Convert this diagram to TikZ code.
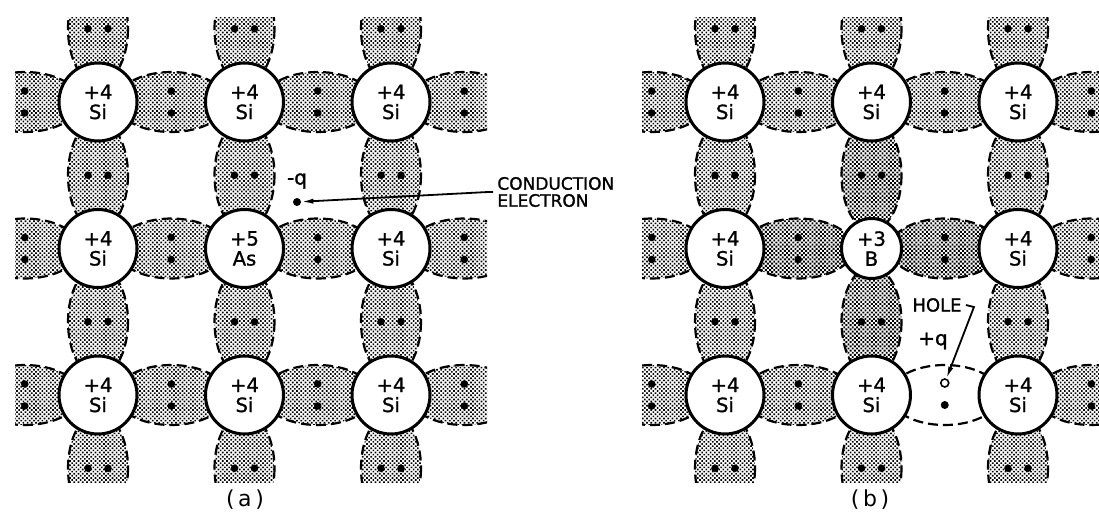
\documentclass[tikz,border=0pt]{standalone}
\usepackage{fontspec}
\setmainfont{DejaVu Sans}
\usetikzlibrary{positioning,patterns.meta,arrows.meta}

\tikzset{
  atom/.style={circle,draw,line width=1.5pt,fill=white,minimum size=39pt,inner sep=0pt,
    align=center,font=\fontsize{9.8}{10}\selectfont\addfontfeature{FakeBold=1.2}},
  boron/.style={atom,minimum size=30pt},
  bond/.style={dash pattern=on 5pt off 2.5pt,line width=1.1pt,
    pattern={Dots[distance=1.5pt,radius=0.58pt,angle=45]}},
  darkbond/.style={bond,pattern={Dots[distance=1.5pt,radius=0.68pt,angle=45]}},
  electron/.style={circle,fill,inner sep=0pt,minimum size=4pt},
  hole/.style={circle,draw,fill=white,line width=0.8pt,inner sep=0pt,minimum size=4pt},
  lbl/.style={font=\fontsize{8.5}{8.5}\selectfont\addfontfeature{FakeBold=1.2},inner sep=2pt},
  charge/.style={font=\fontsize{10}{10}\selectfont\addfontfeature{FakeBold=1.2},inner sep=1pt},
  pointer/.style={-{Latex[length=6pt,width=2.6pt]},line width=0.9pt}
}

\begin{document}
\begin{tikzpicture}[x=0.5pt,y=-0.5pt,node distance=73.25pt]
\useasboundingbox (0,0) rectangle (1099,514);

% (a) silicon with an arsenic donor
\begin{scope}
  \clip (15,17) rectangle (487,482);
  \foreach \r in {0,1,2}
    \foreach \c in {0,...,3} {
      \draw[bond] (24.75+146.5*\c,102+146.5*\r) ellipse [x radius=55,y radius=30];
      \fill (24.75+146.5*\c,91+146.5*\r) circle [radius=3.8]
            (24.75+146.5*\c,113+146.5*\r) circle [radius=3.8];
    }
  \foreach \c in {0,1,2}
    \foreach \r in {0,...,3} {
      \draw[bond] (98+146.5*\c,28.75+146.5*\r) ellipse [x radius=30,y radius=55];
      \fill (88+146.5*\c,28.75+146.5*\r) circle [radius=3.8]
            (108+146.5*\c,28.75+146.5*\r) circle [radius=3.8];
    }
\end{scope}

\node (a11) [atom] at (98,102) {+4\\Si};
\node (a12) [atom,right of=a11] {+4\\Si};
\node (a13) [atom,right of=a12] {+4\\Si};
\node (a21) [atom,below of=a11] {+4\\Si};
\node (a22) [atom,right of=a21] {+5\\As};
\node (a23) [atom,right of=a22] {+4\\Si};
\node (a31) [atom,below of=a21] {+4\\Si};
\node (a32) [atom,right of=a31] {+4\\Si};
\node (a33) [atom,right of=a32] {+4\\Si};

% the fifth electron, set free
\node (eq) [charge] at (297,181) {-q};
\node (e1) [electron] at (297,202) {};
\node (ce) [lbl,align=left,anchor=west] at (493,192) {CONDUCTION\\ELECTRON};
\draw[pointer] (ce.west) -- ++(-5,0) -- (e1);

\node (capa) [font=\fontsize{11}{11}\selectfont] at (245,500) {(\,a\,)};

% (b) silicon with a boron acceptor
\begin{scope}
  \clip (642,17) rectangle (1099,482);
  \foreach \r in {0,1,2}
    \foreach \c in {0,...,3} {
      \ifnum\r\c=22 \else
        \tikzset{cur/.style=bond}
        \ifnum\r\c=11 \tikzset{cur/.style=darkbond}\fi
        \ifnum\r\c=12 \tikzset{cur/.style=darkbond}\fi
        \draw[cur] (651.75+146.5*\c,102+146.5*\r) ellipse [x radius=55,y radius=30];
        \fill (651.75+146.5*\c,91+146.5*\r) circle [radius=3.8]
              (651.75+146.5*\c,113+146.5*\r) circle [radius=3.8];
      \fi
    }
  \foreach \c in {0,1,2}
    \foreach \r in {0,...,3} {
      \tikzset{cur/.style=bond}
      \ifnum\c\r=11 \tikzset{cur/.style=darkbond}\fi
      \ifnum\c\r=12 \tikzset{cur/.style=darkbond}\fi
      \draw[cur] (725+146.5*\c,28.75+146.5*\r) ellipse [x radius=30,y radius=55];
      \fill (715+146.5*\c,28.75+146.5*\r) circle [radius=3.8]
            (735+146.5*\c,28.75+146.5*\r) circle [radius=3.8];
    }
  % the broken bond
  \draw[dash pattern=on 5pt off 2.5pt,line width=1.1pt] (944.75,395) ellipse [x radius=55,y radius=30];
\end{scope}

\node (b11) [atom] at (725,102) {+4\\Si};
\node (b12) [atom,right of=b11] {+4\\Si};
\node (b13) [atom,right of=b12] {+4\\Si};
\node (b21) [atom,below of=b11] {+4\\Si};
\node (b22) [boron,right of=b21] {+3\\B};
\node (b23) [atom,right of=b22] {+4\\Si};
\node (b31) [atom,below of=b21] {+4\\Si};
\node (b32) [atom,right of=b31] {+4\\Si};
\node (b33) [atom,right of=b32] {+4\\Si};

% the hole left behind
\node (h) [hole] at (944.75,383) {};
\node (e2) [electron] at (944.75,405) {};
\node (pq) [charge] at (933,341) {+q};
\node (hl) [lbl,font=\fontsize{9}{9}\selectfont\addfontfeature{FakeBold=1.2}] at (937,305) {HOLE};
\draw[pointer] (hl.east) -- ++(8,2) -- (h);

\node (capb) [font=\fontsize{11}{11}\selectfont] at (870,500) {(\,b\,)};

\end{tikzpicture}
\end{document}
